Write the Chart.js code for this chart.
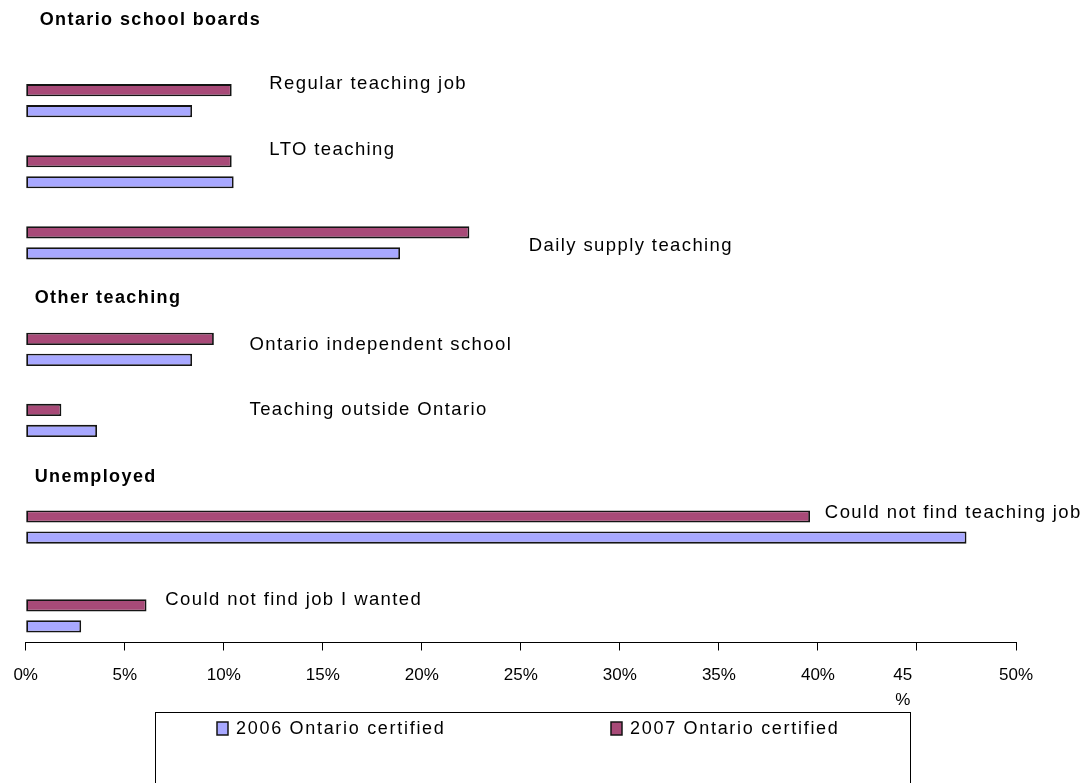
<!DOCTYPE html>
<html>
<head>
<meta charset="utf-8">
<title>Employment status of new Ontario-certified teachers</title>
<script src="https://cdn.jsdelivr.net/npm/chart.js@4.4.1/dist/chart.umd.min.js"></script>
<style>
  html, body { margin: 0; padding: 0; background: #ffffff; }
  #wrap { width: 1089px; height: 783px; position: relative; }
</style>
</head>
<body>
<div id="wrap"><canvas id="chart" width="1089" height="783"></canvas></div>
<script>
// ---- data -------------------------------------------------------------
const categories = [
  'Regular teaching job',
  'LTO teaching',
  'Daily supply teaching',
  'Ontario independent school',
  'Teaching outside Ontario',
  'Could not find teaching job',
  'Could not find job I wanted'
];
const certified2006 = [8.4, 10.5, 18.9, 8.4, 3.6, 47.5, 2.8];
const certified2007 = [10.4, 10.4, 22.4, 9.5, 1.8, 39.6, 6.1];
const seriesNames = ['2006 Ontario certified', '2007 Ontario certified'];
const groupHeadings = ['Ontario school boards', 'Other teaching', 'Unemployed'];
const tickValues = [0, 5, 10, 15, 20, 25, 30, 35, 40, 45, 50];
// the 45 label wraps its "%" onto a second line and sits left of its tick
const tickLabels = ['0%', '5%', '10%', '15%', '20%', '25%', '30%', '35%', '40%',
  ['45      ', '%      '], '50%'];

// ---- layout of the category band (rows, not values) -------------------
const totalRows = 35;
const categoryRows = [4, 8, 12, 18, 22, 28, 33];
const headingRows = [-0.55, 15.1, 25.2];
const headingIndent = [14, 9, 9];
// where each category name sits: value-axis position and row shift
const labelAt = [12.3, 12.3, 25.4, 11.3, 11.3, 40.35, 7.05];
const labelRowShift = [-0.94, -1.22, 0.19, -0.28, -0.62, -0.82, -0.92];

const COLOR_2006 = '#a8a8ff';
const COLOR_2007 = '#a84a78';
const EDGE = '#141414';
const FONT = '"Liberation Sans", Arial, Helvetica, sans-serif';
const SPACING = '1.4px';

const rowLabels = Array.from({ length: totalRows }, (_, r) => {
  const k = categoryRows.indexOf(r);
  return k >= 0 ? categories[k] : '';
});
function spread(values) {
  const out = new Array(totalRows).fill(null);
  categoryRows.forEach((r, i) => { out[r] = values[i]; });
  return out;
}

// ---- category names, group headings and legend ------------------------
const annotate = {
  id: 'annotate',
  afterDraw(chart) {
    const { ctx, chartArea } = chart;
    const x = chart.scales.x, y = chart.scales.y;
    ctx.save();
    ctx.fillStyle = '#000';
    ctx.textAlign = 'left';
    ctx.textBaseline = 'middle';
    ctx.letterSpacing = SPACING;

    ctx.font = '18.5px ' + FONT;
    categories.forEach((name, i) => {
      ctx.fillText(name,
        x.getPixelForValue(labelAt[i]),
        y.getPixelForValue(categoryRows[i] + labelRowShift[i]));
    });

    ctx.font = 'bold 18px ' + FONT;
    groupHeadings.forEach((h, i) => {
      ctx.fillText(h, chartArea.left + headingIndent[i], y.getPixelForValue(headingRows[i]));
    });

    // legend frame (runs off the bottom edge)
    const box = { left: 155, right: 910, top: 712 };
    ctx.strokeStyle = '#000';
    ctx.lineWidth = 1;
    ctx.strokeRect(box.left + 0.5, box.top + 0.5, box.right - box.left, 200);

    const items = [
      { text: seriesNames[0], color: COLOR_2006, x: 217 },
      { text: seriesNames[1], color: COLOR_2007, x: 611 }
    ];
    const rowY = box.top + 17;
    ctx.font = '18px ' + FONT;
    ctx.letterSpacing = '1.7px';
    items.forEach(it => {
      ctx.fillStyle = it.color;
      ctx.fillRect(it.x, rowY - 7, 11, 13);
      ctx.strokeStyle = EDGE;
      ctx.lineWidth = 1.5;
      ctx.strokeRect(it.x, rowY - 7, 11, 13);
      ctx.fillStyle = '#000';
      ctx.fillText(it.text, it.x + 19, rowY);
    });
    ctx.restore();
  }
};

new Chart(document.getElementById('chart'), {
  type: 'bar',
  data: {
    labels: rowLabels,
    datasets: [
      { label: seriesNames[1], data: spread(certified2007), backgroundColor: COLOR_2007 },
      { label: seriesNames[0], data: spread(certified2006), backgroundColor: COLOR_2006 }
    ]
  },
  options: {
    indexAxis: 'y',
    responsive: false,
    animation: false,
    devicePixelRatio: 1,
    layout: { padding: { top: 20.75, left: 25.7, right: 73, bottom: 57.5 } },
    datasets: {
      bar: {
        categoryPercentage: 2.366,
        barPercentage: 0.58,
        borderWidth: 1.8,
        borderColor: EDGE,
        borderSkipped: false
      }
    },
    plugins: {
      legend: { display: false },
      tooltip: { enabled: false }
    },
    scales: {
      y: { type: 'category', display: false, offset: true },
      x: {
        type: 'linear',
        min: 0,
        max: 50,
        afterBuildTicks: axis => { axis.ticks = tickValues.map(v => ({ value: v })); },
        ticks: {
          autoSkip: false,
          maxRotation: 0,
          padding: 12.5,
          color: '#000',
          font: { family: FONT, size: 17, lineHeight: '25px' },
          callback: (value, index) => tickLabels[index]
        },
        grid: { drawOnChartArea: false, drawTicks: true, tickLength: 8, color: '#000', lineWidth: 1 },
        border: { display: true, color: '#000', width: 1 }
      }
    }
  },
  plugins: [annotate]
});
</script>
</body>
</html>
